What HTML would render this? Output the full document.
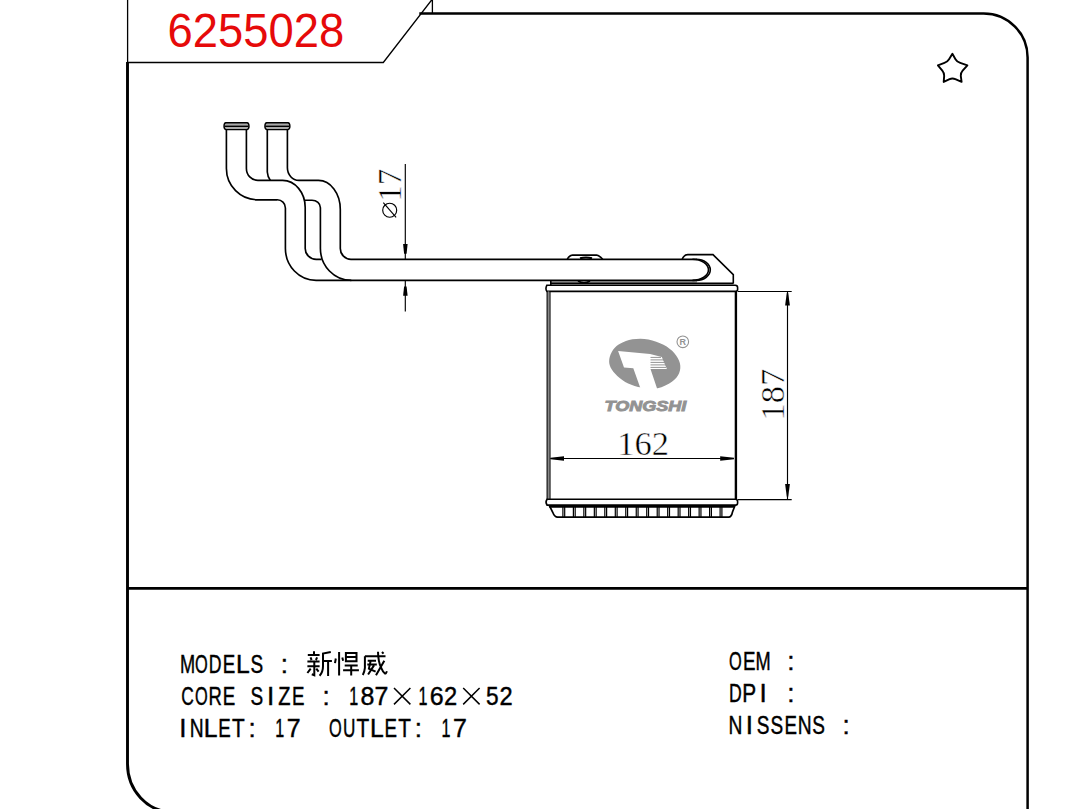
<!DOCTYPE html>
<html><head><meta charset="utf-8">
<style>
html,body{margin:0;padding:0;background:#fff;}
body{width:1071px;height:809px;position:relative;overflow:hidden;}
svg{position:absolute;left:0;top:0;display:block;}
</style></head><body>
<svg width="1071" height="809" viewBox="0 0 1071 809">
<rect width="1071" height="809" fill="#fff"/>
<g fill="none" stroke="#000">
  <path d="M127.6 0V62.5H383.3L431.6 0M432.4 0V13.4" stroke-width="1.3"/>
  <path d="M127.5 62V764A45 48 0 0 0 172.5 812" stroke-width="2.9"/>
  <path d="M419.3 13.45H983.5A44 44 0 0 1 1027.6 57.5V809" stroke-width="2.5"/>
  <path d="M127.5 588.4H1027.6" stroke-width="2.6"/>
</g>
<text x="167.5" y="46.6" font-family="Liberation Sans, sans-serif" font-size="48.8" fill="#e60a0a" transform="translate(167.5 0) scale(0.93 1) translate(-167.5 0)">6255028</text>
<path d="M952.40 53.80 L955.46 59.17 Q956.90 61.70 960.26 62.85 L967.40 65.30 L962.64 70.54 Q960.40 73.00 960.78 75.85 L961.60 81.90 L955.34 79.18 Q952.40 77.90 949.62 79.18 L943.70 81.90 L944.18 75.85 Q944.40 73.00 942.32 70.54 L937.90 65.30 L944.43 62.85 Q947.50 61.70 949.07 59.17 L952.40 53.80Z" fill="none" stroke="#000" stroke-width="1.9" stroke-linejoin="round"/>
<rect x="550.8" y="280.3" width="146" height="3" fill="#aaa"/>
<g fill="none" stroke="#000" stroke-width="1.65">
  <path d="M226.4 129.4V168.5A31.3 31.3 0 0 0 257.7 199.8H277.2A8.1 8.1 0 0 1 285.4 207.9V248.4A30.7 32 0 0 0 316.1 280.4H696.8"/>
  <path d="M246.4 129.4V168.5A11.5 11.9 0 0 0 257.9 180.4H282.6A22.7 27 0 0 1 305.2 207.4V248.4A11 11 0 0 0 316.2 259.4H321.6"/>
  <path d="M267.3 129.4V172Q267.6 177 270.4 180.4"/>
  <path d="M304.5 200.2H312A8.4 7.5 0 0 1 320.4 207.7V248.4A30.9 32 0 0 0 351.3 280.4"/>
  <path d="M287.4 129.4V167.8A11.5 12.6 0 0 0 298.9 180.4H318.5A21.8 29 0 0 1 340.3 209.4V248.4A10.7 11 0 0 0 351 259.4H696.8"/>
</g>
<g stroke="#000" stroke-width="1.4">
  <path d="M225.8 122.8H247.1Q249 123 249 126.3Q249 129.4 246.8 129.6H226.2Q224 129.4 224 126.3Q224 123 225.8 122.8Z" fill="#aaa"/>
  <path d="M224.4 126.3H248.6" fill="none"/>
</g>
<g transform="translate(40.9 0)" stroke="#000" stroke-width="1.4">
  <path d="M225.8 122.8H247.1Q249 123 249 126.3Q249 129.4 246.8 129.6H226.2Q224 129.4 224 126.3Q224 123 225.8 122.8Z" fill="#aaa"/>
  <path d="M224.4 126.3H248.6" fill="none"/>
</g>
<g fill="none" stroke="#000" stroke-width="1.6">
  <path d="M692.5 259.2A16 10.6 0 0 1 692.5 280.4"/>
  <path d="M696.3 259.2A14 10.6 0 0 1 696.3 280.4"/>
  <path d="M567.3 259.2Q569.5 255.2 572.5 255.1H596.6Q599 255.2 602.7 259.2"/>
  <path d="M682.2 259.2Q684 254.8 687.8 254.6H713L733.3 274.6V283.4"/>
  <path d="M580 258.3Q586 256.5 592 258.3" stroke-width="2"/>
  <path d="M578 281Q584 284.5 590 281"/>
  <path d="M550.8 280.3V285.3M550.8 283.4H733.5"/>
  <path d="M546.8 285.3H735.3Q737.6 285.4 737.6 287.5V289.5Q737.6 291.4 735.5 291.4H547Q545 289 546.8 285.3Z" stroke-width="1.6"/>
  <path d="M547.2 291.4V499.2M549.9 291.4V499.2" stroke-width="1.3"/>
  <path d="M735.9 291.4V499.2" stroke-width="2.4"/>
</g>
<rect x="547.8" y="291.4" width="1.5" height="207.8" fill="#888"/>
<g fill="none" stroke="#000">
  <path d="M547 499.2H735.5Q737.6 499.3 737.6 501.5V503Q737.6 505.1 735.5 505.1H547Q545 502 547 499.2Z" stroke-width="1.6"/>
  <path d="M549.3 506.9H735" stroke-width="1.7"/>
  <path d="M549.3 505.5L552.6 512Q554.5 517.2 557.7 517.2H728.6Q731.5 517 732.5 512L735 505.5" stroke-width="1.7"/>
  <path d="M562.90 507V517.3M564.70 507V517.3M573.38 507V517.3M575.18 507V517.3M583.86 507V517.3M585.66 507V517.3M594.34 507V517.3M596.14 507V517.3M604.82 507V517.3M606.62 507V517.3M615.30 507V517.3M617.10 507V517.3M625.78 507V517.3M627.58 507V517.3M636.26 507V517.3M638.06 507V517.3M646.74 507V517.3M648.54 507V517.3M657.22 507V517.3M659.02 507V517.3M667.70 507V517.3M669.50 507V517.3M678.18 507V517.3M679.98 507V517.3M688.66 507V517.3M690.46 507V517.3M699.14 507V517.3M700.94 507V517.3M709.62 507V517.3M711.42 507V517.3M720.10 507V517.3M721.90 507V517.3" stroke-width="1.2"/>
</g>
<g fill="none" stroke="#000" stroke-width="1.15">
  <path d="M405.3 164V259.2M405.3 280.4V311.5"/>
  <path d="M738 291.5H791.7M738 499.6H791.7"/>
  <path d="M787.5 292V499.2"/>
  <path d="M550.5 458.5H734"/>
</g>
<g fill="#000">
  <path d="M403.1 244H407.6L406.6 253.8H404.1Z"/>
  <path d="M404.1 286.4H406.6L407.6 295.7H403.1Z"/>
  <path d="M786.8 293H788.2L789.9 305.5H785.1Z"/>
  <path d="M786.8 496.7H788.2L789.9 484.1H785.1Z"/>
  <path d="M550.5 457.8V459.2L564 460.8V456.2Z"/>
  <path d="M734 457.8V459.2L720.2 460.8V456.2Z"/>
</g>
<g font-family="Liberation Serif, serif" fill="#000" stroke="#fff" stroke-width="0.5">
  <text x="617.2" y="454.6" font-size="34.5">162</text>
  <text transform="translate(784.3 420.6) rotate(-90)" font-size="34.5">187</text>
  <text transform="translate(401 201.8) rotate(-90)" font-size="33">17</text>
</g>
<g fill="none" stroke="#000" stroke-width="1.15">
  <circle cx="389.7" cy="210.2" r="7"/>
  <path d="M383.3 202.6L396.1 217.4"/>
</g>
<path d="M632.40 339.30C637.05 338.62 643.22 338.48 648.40 339.40C653.58 340.32 659.17 342.50 663.50 344.80C667.83 347.10 671.67 350.12 674.40 353.20C677.13 356.28 679.12 359.95 679.90 363.30C680.68 366.65 680.43 370.23 679.10 373.30C677.77 376.37 675.48 379.20 671.90 381.70C668.32 384.20 662.63 387.32 657.60 388.30C652.57 389.28 646.60 388.42 641.70 387.60C636.80 386.78 632.27 385.35 628.20 383.40C624.13 381.45 620.23 378.55 617.30 375.90C614.37 373.25 611.93 370.30 610.60 367.50C609.27 364.70 608.88 362.05 609.30 359.10C609.72 356.15 611.23 352.40 613.10 349.80C614.97 347.20 617.28 345.25 620.50 343.50C623.72 341.75 627.75 339.98 632.40 339.30Z" fill="#939393"/>
<path d="M618.1 351.1L650.1 354L661.8 357L666.9 369.1L650.5 369.1L657.9 391L641.4 391L633.3 368.3L624 367.5Z" fill="#fff"/>
<g stroke="#939393" stroke-width="1" fill="none">
  <path d="M650.5 357.4H661M650.5 359.9H664M650.5 362.4H665M650.5 364.9H666M650.5 367.4H666"/>
</g>
<text x="604.5" y="411.3" fill="#939393" stroke="#939393" stroke-width="0.9" font-family="Liberation Sans, sans-serif" font-weight="bold" font-style="italic" font-size="15" transform="translate(604 0) scale(1.2 1) translate(-604 0)">TONGSHI</text>
<circle cx="682.8" cy="341.8" r="5.8" fill="none" stroke="#939393" stroke-width="1.1"/>
<text x="682.8" y="345.3" font-family="Liberation Sans, sans-serif" font-weight="bold" font-size="9" fill="#939393" text-anchor="middle">R</text>
<g fill="none" stroke="#000" stroke-width="1.5">
  <path d="M394 688L410.4 704.4M410.4 688L394 704.4"/>
  <path d="M463.2 688L479.6 704.4M479.6 688L463.2 704.4"/>
</g>
<g fill="none" stroke="#000" stroke-width="2" stroke-linecap="butt">
  <path d="M314 651.3V655M307.8 654.9H319.6M310.5 657.3L311.6 660M317.1 657.3L315.9 660M307.4 661.5H319.6M307.4 666.2H319.6M314.3 661.9V675.3L311.8 674.3M310.7 668.6L307.4 673M316.3 668.6L318.6 671.7"/>
  <path d="M330.8 652.1L323 653.5V666.2Q323 672 319.6 675.7M323.4 660.9H331.9M328.1 661V676.1"/>
  <path d="M335.8 658.5L335 663.2M339.1 652V675.5M342.3 657.5L343.1 660.7M345.9 653H356.5V661.3H345.9ZM345.9 657.1H356.5M344.7 665.4H357.7M343.1 670.2H358.9M351.2 665.4V675.5"/>
  <path d="M364.9 656.3H385.5M364.9 656.3V667.8Q364.5 672 362.8 674.9M382 652L383.5 653.7M378 651.8Q378.2 662 381.2 667.8Q383 672 384.7 673.3Q386 674 386.9 671.3M384.3 660.7L376 675.3M367.7 660.7H376M367.3 664.6H376.8M370.5 661.5L368.9 668.6L375.6 671.7M374 665.4L368.1 674.5"/>
</g>
<g font-family="Liberation Sans, sans-serif" font-size="26" text-anchor="middle" fill="#000" stroke="#000" stroke-width="0.45">
<text transform="translate(187.50 672.80) scale(0.7 1)">M</text>
<text transform="translate(201.35 672.80) scale(0.63 1)">O</text>
<text transform="translate(215.20 672.80) scale(0.68 1)">D</text>
<text transform="translate(229.05 672.80) scale(0.72 1)">E</text>
<text transform="translate(242.90 672.80) scale(0.95 1)">L</text>
<text transform="translate(256.75 672.80) scale(0.73 1)">S</text>
<text transform="translate(284.45 672.80) scale(1.0 1)">:</text>
<text transform="translate(187.50 705.10) scale(0.67 1)">C</text>
<text transform="translate(201.35 705.10) scale(0.63 1)">O</text>
<text transform="translate(215.20 705.10) scale(0.71 1)">R</text>
<text transform="translate(229.05 705.10) scale(0.72 1)">E</text>
<text transform="translate(256.75 705.10) scale(0.73 1)">S</text>
<text transform="translate(270.60 705.10) scale(1.0 1)">I</text>
<text transform="translate(284.45 705.10) scale(0.77 1)">Z</text>
<text transform="translate(298.30 705.10) scale(0.72 1)">E</text>
<text transform="translate(326.00 705.10) scale(1.0 1)">:</text>
<text transform="translate(353.70 705.10) scale(0.62 1)">1</text>
<text transform="translate(367.55 705.10) scale(0.96 1)">8</text>
<text transform="translate(381.40 705.10) scale(0.96 1)">7</text>
<text transform="translate(422.95 705.10) scale(0.62 1)">1</text>
<text transform="translate(436.80 705.10) scale(0.96 1)">6</text>
<text transform="translate(450.65 705.10) scale(0.91 1)">2</text>
<text transform="translate(492.20 705.10) scale(0.87 1)">5</text>
<text transform="translate(506.05 705.10) scale(0.91 1)">2</text>
<text transform="translate(182.90 737.40) scale(1.0 1)">I</text>
<text transform="translate(196.75 737.40) scale(0.74 1)">N</text>
<text transform="translate(210.60 737.40) scale(0.95 1)">L</text>
<text transform="translate(224.45 737.40) scale(0.72 1)">E</text>
<text transform="translate(238.30 737.40) scale(0.8 1)">T</text>
<text transform="translate(252.15 737.40) scale(1.0 1)">:</text>
<text transform="translate(279.85 737.40) scale(0.62 1)">1</text>
<text transform="translate(293.70 737.40) scale(0.96 1)">7</text>
<text transform="translate(335.25 737.40) scale(0.63 1)">O</text>
<text transform="translate(349.10 737.40) scale(0.66 1)">U</text>
<text transform="translate(362.95 737.40) scale(0.8 1)">T</text>
<text transform="translate(376.80 737.40) scale(0.95 1)">L</text>
<text transform="translate(390.65 737.40) scale(0.72 1)">E</text>
<text transform="translate(404.50 737.40) scale(0.8 1)">T</text>
<text transform="translate(418.35 737.40) scale(1.0 1)">:</text>
<text transform="translate(446.05 737.40) scale(0.62 1)">1</text>
<text transform="translate(459.90 737.40) scale(0.96 1)">7</text>
<text transform="translate(735.40 669.60) scale(0.63 1)">O</text>
<text transform="translate(749.25 669.60) scale(0.72 1)">E</text>
<text transform="translate(763.10 669.60) scale(0.7 1)">M</text>
<text transform="translate(790.80 669.60) scale(1.0 1)">:</text>
<text transform="translate(735.40 701.50) scale(0.68 1)">D</text>
<text transform="translate(749.25 701.50) scale(0.8 1)">P</text>
<text transform="translate(763.10 701.50) scale(1.0 1)">I</text>
<text transform="translate(790.80 701.50) scale(1.0 1)">:</text>
<text transform="translate(735.40 733.80) scale(0.74 1)">N</text>
<text transform="translate(749.25 733.80) scale(1.0 1)">I</text>
<text transform="translate(763.10 733.80) scale(0.73 1)">S</text>
<text transform="translate(776.95 733.80) scale(0.73 1)">S</text>
<text transform="translate(790.80 733.80) scale(0.72 1)">E</text>
<text transform="translate(804.65 733.80) scale(0.74 1)">N</text>
<text transform="translate(818.50 733.80) scale(0.73 1)">S</text>
<text transform="translate(846.20 733.80) scale(1.0 1)">:</text>
</g>
</svg>
</body></html>
